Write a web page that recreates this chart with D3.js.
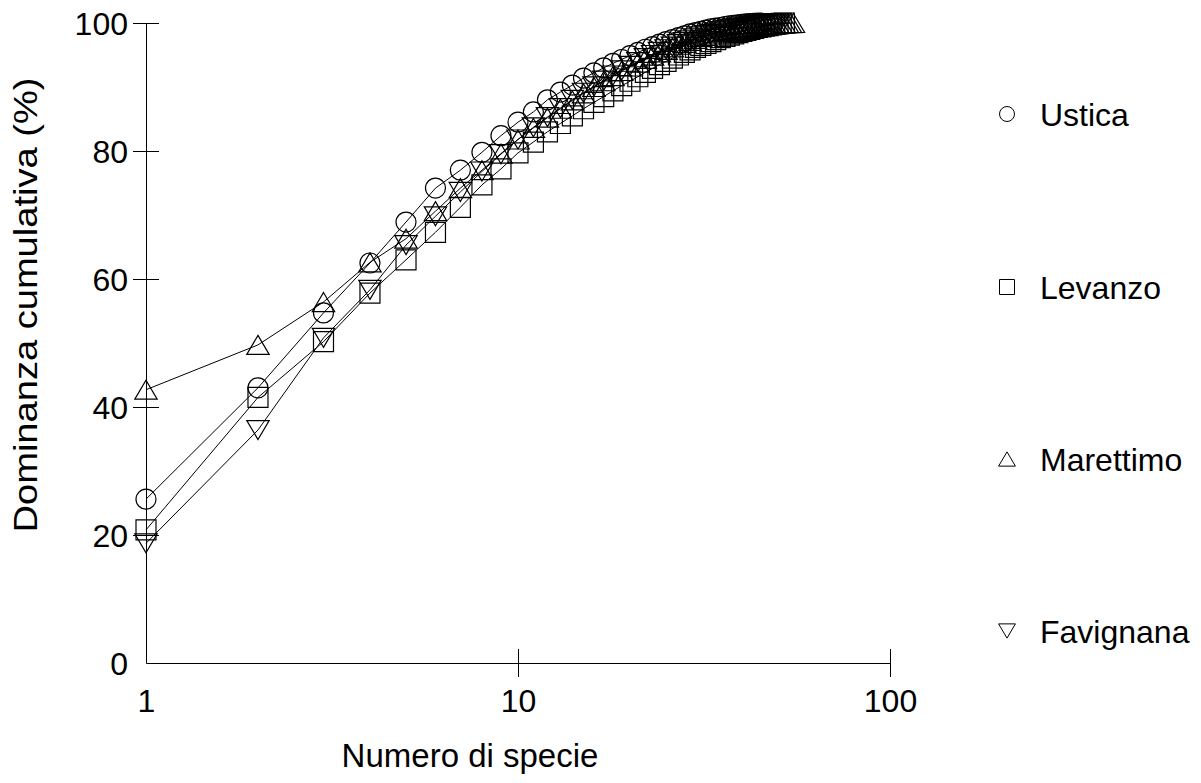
<!DOCTYPE html>
<html>
<head>
<meta charset="utf-8">
<script src="https://d3js.org/d3.v7.min.js"></script>
<style>
  body { margin: 0; background: #fff; }
  svg text { font-family: "Liberation Sans", Arial, sans-serif; fill: #000; }
</style>
</head>
<body>
<div id="chart"></div>
<script>
// cumulative dominance (%) by species rank, one array per island
const seriesNames = ["Ustica", "Levanzo", "Marettimo", "Favignana"];
const seriesShapes = ["circle", "square", "triangleUp", "triangleDown"];

const ustica = [25.6, 43.0, 54.7, 62.5, 68.9, 74.2, 77.0, 79.8, 82.4, 84.5,
  86.1, 88.0, 89.2, 90.3, 91.4, 92.2, 93.0, 93.7, 94.3, 94.9,
  95.4, 95.9, 96.3, 96.7, 97.1, 97.4, 97.7, 98.0, 98.3, 98.5,
  98.7, 98.9, 99.1, 99.2, 99.3, 99.45, 99.55, 99.65, 99.72, 99.8,
  99.85, 99.9, 99.95, 99.98, 100];

const levanzo = [20.8, 41.5, 50.2, 57.8, 63.0, 67.3, 71.2, 74.7, 77.2, 79.7,
  81.4, 83.0, 84.3, 85.5, 86.6, 87.6, 88.5, 89.4, 90.2, 90.9,
  91.6, 92.3, 92.9, 93.5, 94.0, 94.5, 95.0, 95.4, 95.8, 96.2,
  96.5, 96.8, 97.1, 97.4, 97.7, 97.9, 98.1, 98.3, 98.5, 98.7,
  98.85, 99.0, 99.15, 99.3, 99.4, 99.5, 99.6, 99.7, 99.8, 99.87,
  99.94, 100];

const marettimo = [42.7, 49.7, 56.4, 62.6, 66.3, 70.6, 74.2, 77.0, 79.6, 81.8,
  83.6, 85.2, 86.6, 87.9, 89.0, 90.0, 90.9, 91.7, 92.5, 93.2,
  93.8, 94.4, 94.9, 95.4, 95.8, 96.2, 96.6, 96.9, 97.2, 97.5,
  97.8, 98.0, 98.2, 98.4, 98.6, 98.75, 98.9, 99.0, 99.1, 99.2,
  99.3, 99.38, 99.46, 99.54, 99.6, 99.66, 99.72, 99.78, 99.82, 99.86,
  99.9, 99.93, 99.96, 99.98, 100];

const favignana = [18.7, 36.4, 50.8, 58.3, 65.3, 69.8, 73.6, 76.8, 79.5, 81.8,
  83.7, 85.3, 86.7, 88.0, 89.1, 90.1, 91.0, 91.8, 92.6, 93.3,
  93.9, 94.5, 95.0, 95.5, 95.9, 96.3, 96.7, 97.0, 97.3, 97.6,
  97.9, 98.1, 98.3, 98.5, 98.7, 98.85, 99.0, 99.1, 99.2, 99.3,
  99.4, 99.5, 99.58, 99.66, 99.74, 99.8, 99.86, 99.92, 99.96, 100];

const seriesValues = [ustica, levanzo, marettimo, favignana];
const xTicks = [1, 10, 100];
const yTicks = [0, 20, 40, 60, 80, 100];

const width = 1201;
const height = 783;
const plotLeft = 146, plotRight = 890, plotTop = 23, plotBottom = 663;

const svg = d3.select("#chart").append("svg")
  .attr("width", width).attr("height", height);

const x = d3.scaleLog().domain([1, 100]).range([plotLeft, plotRight]);
const y = d3.scaleLinear().domain([0, 100]).range([plotBottom, plotTop]);

// marker path, centred on 0,0
function shapePath(shape, s) {
  if (shape === "circle") {
    const r = s / 2;
    return "M" + r + ",0A" + r + "," + r + " 0 1,1 " + (-r) + ",0A" + r + "," + r + " 0 1,1 " + r + ",0Z";
  }
  if (shape === "square") {
    const h = s / 2;
    return "M" + (-h) + "," + (-h) + "H" + h + "V" + h + "H" + (-h) + "Z";
  }
  const w = s * 1.12 / 2, h = s * 0.95 / 2;
  if (shape === "triangleUp") {
    return "M0," + (-h) + "L" + w + "," + h + "L" + (-w) + "," + h + "Z";
  }
  return "M0," + h + "L" + w + "," + (-h) + "L" + (-w) + "," + (-h) + "Z";
}

// y axis, ticks cross the line
const yAxis = svg.append("g")
  .attr("transform", "translate(" + plotLeft + ",0)")
  .call(d3.axisLeft(y).tickValues(yTicks).tickSize(13).tickSizeOuter(0).tickPadding(5));
yAxis.select(".domain").attr("stroke", "#000");
yAxis.selectAll(".tick line").attr("x1", 13).attr("stroke", "#000");
yAxis.selectAll(".tick").filter(d => d === 0).select("line").remove();
yAxis.selectAll(".tick text")
  .style("font-size", "32px")
  .attr("dy", "0.36em");

// x axis
const xAxis = svg.append("g")
  .attr("transform", "translate(0," + plotBottom + ")")
  .call(d3.axisBottom(x).tickValues(xTicks).tickFormat(d3.format("d")).tickSize(14).tickSizeOuter(0).tickPadding(12));
xAxis.select(".domain").attr("stroke", "#000");
xAxis.selectAll(".tick line").attr("y1", -14).attr("stroke", "#000");
xAxis.selectAll(".tick").filter(d => d === 1).select("line").remove();
xAxis.selectAll(".tick text").style("font-size", "32px");

// axis titles
svg.append("text")
  .attr("transform", "translate(37,305) rotate(-90)")
  .attr("text-anchor", "middle")
  .attr("textLength", 455)
  .attr("lengthAdjust", "spacingAndGlyphs")
  .style("font-size", "34px")
  .text("Dominanza cumulativa (%)");

svg.append("text")
  .attr("x", 470)
  .attr("y", 767)
  .attr("text-anchor", "middle")
  .style("font-size", "33px")
  .text("Numero di specie");

// series
const line = d3.line()
  .x((d, i) => x(i + 1))
  .y(d => y(d));

seriesValues.forEach((vals, k) => {
  svg.append("path")
    .datum(vals)
    .attr("d", line)
    .attr("fill", "none")
    .attr("stroke", "#000")
    .attr("stroke-width", 1);

  svg.append("g").selectAll("path")
    .data(vals)
    .enter()
    .append("path")
    .attr("transform", (d, i) => "translate(" + x(i + 1) + "," + y(d) + ")")
    .attr("d", shapePath(seriesShapes[k], 20))
    .attr("fill", "none")
    .attr("stroke", "#000")
    .attr("stroke-width", 1.2);
});

// legend
const legendY = [114, 287, 459, 631];
const legend = svg.append("g");
seriesNames.forEach((name, k) => {
  legend.append("path")
    .attr("transform", "translate(1007," + legendY[k] + ")")
    .attr("d", shapePath(seriesShapes[k], 15))
    .attr("fill", "none")
    .attr("stroke", "#000")
    .attr("stroke-width", 1);
  legend.append("text")
    .attr("x", 1040)
    .attr("y", legendY[k])
    .attr("dy", "0.36em")
    .style("font-size", "32px")
    .text(name);
});
</script>
</body>
</html>
